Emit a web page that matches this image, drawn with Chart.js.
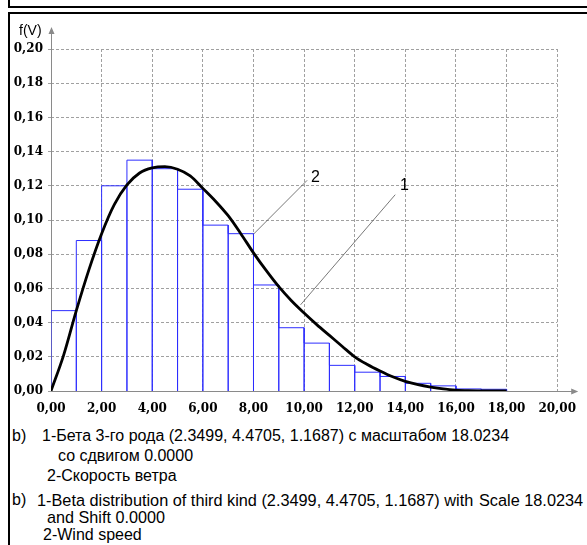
<!DOCTYPE html>
<html lang="ru">
<head>
<meta charset="UTF-8">
<title>f(V)</title>
<script src="https://cdn.jsdelivr.net/npm/chart.js"></script>
<style>
  body { margin: 0; width: 587px; height: 545px; overflow: hidden; background: #fff; position: relative; font-family: 'Liberation Sans', Arial, sans-serif; }
  .frame-top { position: absolute; left: 8px; top: -11px; width: 600px; height: 15px; border: 2px solid #000; }
  .frame { position: absolute; left: 8px; top: 12px; width: 600px; height: 560px; border: 2px solid #000; border-right: none; }
  #chart { position: absolute; left: 0; top: 0; width: 587px; height: 425px; }
  .cap { position: absolute; font-size: 16px; line-height: 18px; color: #000; white-space: nowrap; }
</style>
</head>
<body>
<div class="frame-top"></div>
<div class="frame"></div>
<canvas id="chart" width="587" height="425"></canvas>

<div class="cap" style="left:12px; top:427px;">b)</div>
<div class="cap" style="left:42px; top:427px;">1-Бета 3-го рода (2.3499, 4.4705, 1.1687) с масштабом 18.0234</div>
<div class="cap" style="left:58px; top:447px;">со сдвигом 0.0000</div>
<div class="cap" style="left:47px; top:467px;">2-Скорость ветра</div>
<div class="cap" style="left:12px; top:491px;">b)</div>
<div class="cap" style="left:37px; top:491px; font-size:16.3px;">1-Beta distribution of third kind (2.3499, 4.4705, 1.1687) with</div>
<div class="cap" style="left:479px; top:491px; font-size:16.3px;">Scale 18.0234</div>
<div class="cap" style="left:47px; top:508px; font-size:16.2px;">and Shift 0.0000</div>
<div class="cap" style="left:43px; top:526px;">2-Wind speed</div>

<script>
// histogram of wind speed: left edge of each 1 m/s bin and its relative frequency
const binLeft = [0, 1, 2, 3, 4, 5, 6, 7, 8, 9, 10, 11, 12, 13, 14, 15, 16, 17];
const binWidth = 1;
const binFreq = [0.047, 0.088, 0.120, 0.135, 0.130, 0.118, 0.097, 0.092, 0.062,
                 0.037, 0.028, 0.015, 0.011, 0.0085, 0.0045, 0.003, 0.0012, 0.001];

// fitted density (curve 1)
const curveV = [0, 0.5, 1, 1.5, 2, 2.5, 3, 3.5, 4, 4.5, 5, 5.5, 6, 6.5, 7, 7.5, 8, 8.5, 9,
                9.5, 10, 10.5, 11, 11.5, 12, 12.5, 13, 13.5, 14, 14.5, 15, 15.5, 16, 16.5, 17, 17.5, 18];
const curveF = [0, 0.021, 0.047, 0.071, 0.092, 0.109, 0.1205, 0.1275, 0.1305, 0.1312, 0.1297,
                0.1258, 0.1185, 0.1110, 0.1025, 0.0920, 0.0808, 0.0705, 0.0610, 0.0528, 0.0456,
                0.0388, 0.0325, 0.0262, 0.0200, 0.0155, 0.0117, 0.0083, 0.0056, 0.0037, 0.0023,
                0.0012, 0.0005, 0.0002, 0.0001, 0, 0];

// leader lines and their numbers
const leader1V = [9.86, 13.6];
const leader1F = [0.0504, 0.1148];
const leader2V = [8.0, 10.12];
const leader2F = [0.0917, 0.1232];
const leaderText = ['1', '2'];
const leaderTextV = [13.96, 10.45];
const leaderTextF = [0.1202, 0.1250];

const xMax = 20, xStep = 2;
const yMax = 0.2, yStep = 0.02;

const comma = v => v.toFixed(2).replace('.', ',');
const pts = (xs, ys) => xs.map((v, i) => ({ x: v, y: ys[i] }));

// outline of the histogram as one path: up, across, down for every bin
const histPath = [];
binLeft.forEach((l, i) => {
  histPath.push({ x: l, y: 0 }, { x: l, y: binFreq[i] },
                { x: l + binWidth, y: binFreq[i] }, { x: l + binWidth, y: 0 });
});

const tickFont = { family: "'DejaVu Serif', serif", size: 12, weight: 'bold' };

const axesPlugin = {
  id: 'axes',
  beforeDatasetsDraw(chart) {
    const { ctx, chartArea, scales: { x, y } } = chart;
    const x0 = Math.round(x.getPixelForValue(0)) + 0.5;
    const y0 = Math.round(y.getPixelForValue(0)) + 0.5;
    const yTop = chartArea.top - 22;
    const xEnd = chartArea.right + 21;
    ctx.save();
    ctx.strokeStyle = '#8a8a8a';
    ctx.fillStyle = '#8a8a8a';
    ctx.lineWidth = 1;
    ctx.beginPath();
    ctx.moveTo(x0, y0); ctx.lineTo(x0, yTop + 5);
    ctx.moveTo(x0, y0); ctx.lineTo(xEnd - 5, y0);
    ctx.stroke();
    ctx.beginPath();
    ctx.moveTo(x0, yTop); ctx.lineTo(x0 - 3, yTop + 7); ctx.lineTo(x0 + 3, yTop + 7); ctx.closePath();
    ctx.moveTo(xEnd, y0); ctx.lineTo(xEnd - 7, y0 - 3); ctx.lineTo(xEnd - 7, y0 + 3); ctx.closePath();
    ctx.fill();
    ctx.fillStyle = '#000';
    ctx.font = "14px 'Liberation Sans', Arial, sans-serif";
    ctx.textAlign = 'left';
    ctx.textBaseline = 'alphabetic';
    ctx.fillText('f(V)', 19, yTop + 8);
    ctx.restore();
  },
  afterDatasetsDraw(chart) {
    const { ctx, scales: { x, y } } = chart;
    ctx.save();
    ctx.fillStyle = '#000';
    ctx.font = "16px 'Liberation Sans', Arial, sans-serif";
    ctx.textAlign = 'center';
    ctx.textBaseline = 'middle';
    leaderText.forEach((t, i) => {
      ctx.fillText(t, x.getPixelForValue(leaderTextV[i]), y.getPixelForValue(leaderTextF[i]));
    });
    ctx.restore();
  }
};

new Chart(document.getElementById('chart'), {
  type: 'line',
  data: {
    datasets: [
      {
        data: pts(curveV, curveF),
        borderColor: '#000',
        borderWidth: 2.8,
        pointRadius: 0,
        cubicInterpolationMode: 'monotone',
        order: 0
      },
      {
        data: pts(leader1V, leader1F),
        borderColor: '#555',
        borderWidth: 0.8,
        pointRadius: 0,
        order: 1
      },
      {
        data: pts(leader2V, leader2F),
        borderColor: '#555',
        borderWidth: 0.8,
        pointRadius: 0,
        order: 1
      },
      {
        data: histPath,
        borderColor: 'rgb(45,45,255)',
        borderWidth: 1,
        pointRadius: 0,
        tension: 0,
        order: 2
      }
    ]
  },
  options: {
    responsive: false,
    animation: false,
    devicePixelRatio: 1,
    layout: { padding: { top: 49, right: 24, left: 0, bottom: 0 } },
    plugins: { legend: { display: false }, tooltip: { enabled: false } },
    scales: {
      x: {
        type: 'linear',
        min: 0, max: xMax,
        afterFit: s => { s.height = 34; },
        grid: { color: '#a0a0a0', drawTicks: false },
        border: { display: false, dash: [3, 2] },
        ticks: { stepSize: xStep, padding: 11, color: '#000', font: tickFont, callback: v => comma(v), maxRotation: 0, autoSkip: false }
      },
      y: {
        min: 0, max: yMax,
        afterFit: s => { s.width = 51; },
        grid: { color: '#a0a0a0', tickLength: 3, tickColor: '#a0a0a0' },
        border: { display: false, dash: [3, 2] },
        ticks: { stepSize: yStep, padding: 5, color: '#000', font: tickFont, callback: v => comma(v) }
      }
    }
  },
  plugins: [axesPlugin]
});
</script>
</body>
</html>
